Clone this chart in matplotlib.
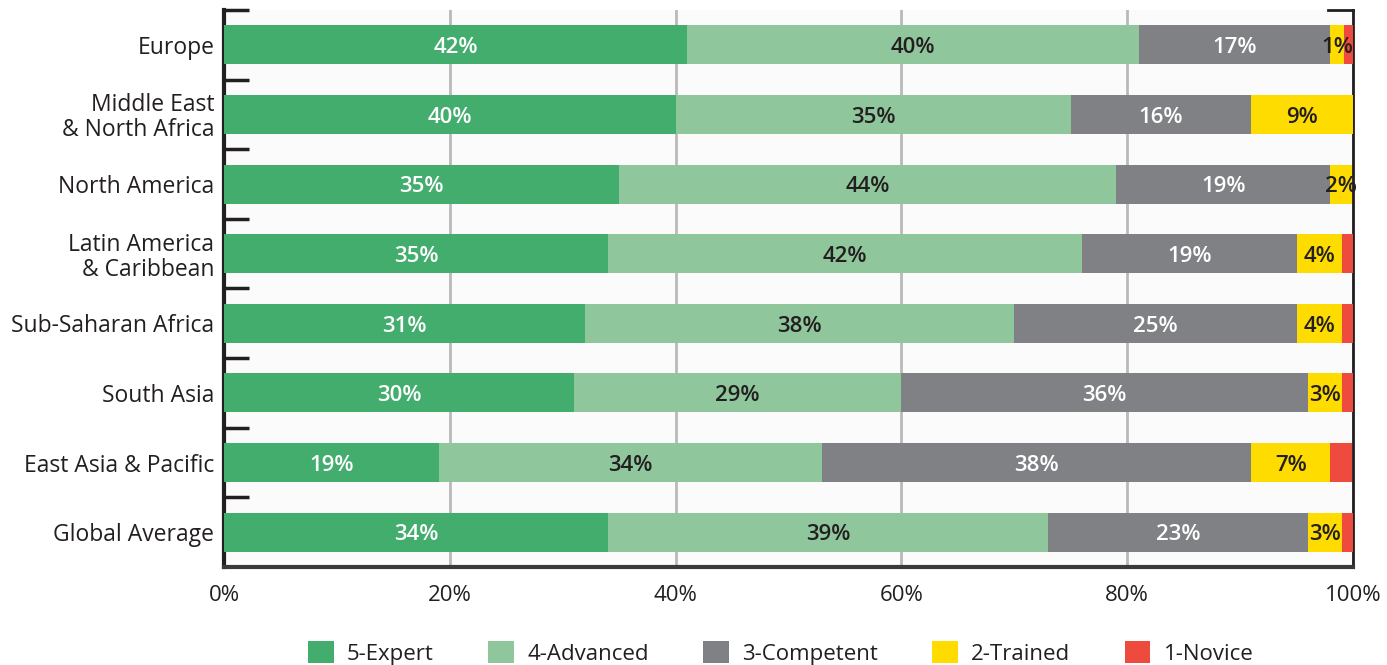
import numpy as np
import matplotlib.pyplot as plt

plt.rcParams['font.family'] = ['Open Sans', 'DejaVu Sans']

regions = ["Europe", "Middle East\n& North Africa", "North America",
           "Latin America\n& Caribbean", "Sub-Saharan Africa", "South Asia",
           "East Asia & Pacific", "Global Average"]
levels = ["5-Expert", "4-Advanced", "3-Competent", "2-Trained", "1-Novice"]

# segment widths (percent)
expert = [41, 40, 35, 34, 32, 31, 19, 34]
advanced = [40, 35, 44, 42, 38, 29, 34, 39]
competent = [17, 16, 19, 19, 25, 36, 38, 23]
trained = [1.2, 9, 1.9, 4, 4, 3, 7, 3]
novice = [0.8, 0, 0, 1, 1, 1, 1.9, 1]

# printed labels (as shown on the chart)
expert_lbl = ["42%", "40%", "35%", "35%", "31%", "30%", "19%", "34%"]
advanced_lbl = ["40%", "35%", "44%", "42%", "38%", "29%", "34%", "39%"]
competent_lbl = ["17%", "16%", "19%", "19%", "25%", "36%", "38%", "23%"]
trained_lbl = ["1%", "9%", "2%", "4%", "4%", "3%", "7%", "3%"]

colors = ["#43ad6e", "#8fc69b", "#808184", "#fedc00", "#ee4a3d"]
txt_colors = ["white", "#231f20", "white", "#231f20"]

fig = plt.figure(figsize=(13.87, 6.65), dpi=100)
ax = fig.add_axes([0.1615, 0.1474, 0.814, 0.8376])
ax.set_facecolor("#fbfbfb")

y = np.arange(len(regions))
series = [expert, advanced, competent, trained, novice]
labels = [expert_lbl, advanced_lbl, competent_lbl, trained_lbl]
left = np.zeros(len(regions))
for i, vals in enumerate(series):
    vals = np.array(vals, dtype=float)
    ax.barh(y, vals, left=left, height=0.56, color=colors[i], label=levels[i], zorder=3)
    if i < 4:
        for k in range(len(regions)):
            ax.text(left[k] + vals[k] / 2, y[k] + 0.04, labels[i][k], ha="center", va="center",
                    color=txt_colors[i], fontsize=16, fontweight="semibold", zorder=4)
    left += vals

ax.set_xlim(0, 100)
ax.set_ylim(len(regions) - 0.5, -0.5)
ax.set_xticks([0, 20, 40, 60, 80, 100])
ax.set_xticklabels([f"{v}%" for v in [0, 20, 40, 60, 80, 100]], fontsize=16, color="#231f20")
ax.tick_params(axis="x", length=0, pad=13)
ax.set_yticks(y)
ax.set_yticklabels(regions, fontsize=16.5, color="#231f20", linespacing=1.05)
ax.tick_params(axis="y", which="major", length=0, pad=7)
ax.set_yticks(np.arange(-0.5, len(regions) - 1), minor=True)
ax.tick_params(axis="y", which="minor", direction="in", length=18, width=2.5, color="#231f20")
ax.grid(axis="x", color="#b9b9bb", linewidth=2, zorder=1)

ax.spines["top"].set_visible(False)
ax.spines["left"].set_linewidth(3)
ax.spines["left"].set_color("#231f20")
ax.spines["right"].set_linewidth(2)
ax.spines["right"].set_color("#231f20")
ax.spines["bottom"].set_linewidth(3)
ax.spines["bottom"].set_color("#3a3a3c")
ax.plot([0.978, 1.0], [1.0, 1.0], transform=ax.transAxes, color="#231f20",
        linewidth=2, clip_on=False, zorder=5)

for t in ax.get_yticklabels():
    t.set_multialignment("right")

leg = fig.legend(loc="lower center", ncol=5, bbox_to_anchor=(0.563, -0.03), frameon=False,
                 fontsize=16, handlelength=1.15, handleheight=1.15, columnspacing=2.45,
                 handletextpad=0.6)
for t in leg.get_texts():
    t.set_color("#231f20")

fig.savefig("out.png", dpi=100)
